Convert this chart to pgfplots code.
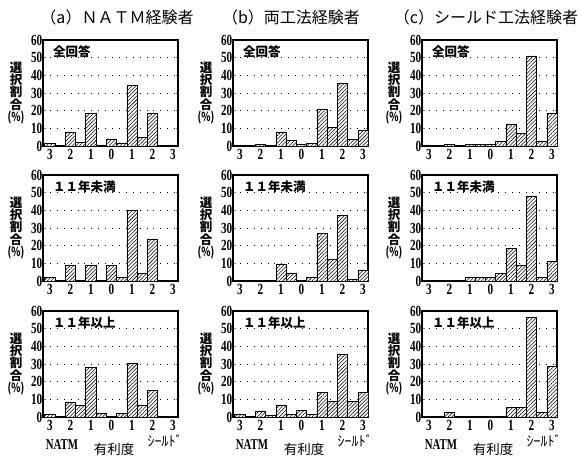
\documentclass[border=0pt]{standalone}
\usepackage{pgfplots}
\pgfplotsset{compat=1.18}
\usepackage{fontspec}
\usetikzlibrary{patterns,patterns.meta}
\setmainfont{Noto Sans CJK JP}
\newfontfamily\jp{Noto Sans CJK JP}
\newfontfamily\numf{Liberation Serif}
\newcommand\sq[1]{\scalebox{0.72}[1]{\numf\bfseries\fontsize{15.5}{15.5}\selectfont #1}}
\pgfplotsset{
  panel/.style={
    anchor=south west,
    width=135pt, height=106pt, scale only axis,
    xmin=-3.34, xmax=3.245, ymin=0, ymax=60,
    ytick={0,10,...,60},
    yticklabels={\sq{0},\sq{10},\sq{20},\sq{30},\sq{40},\sq{50},\sq{60}},
    xtick={-3,-2,...,3},
    xticklabels={\sq{3},\sq{2},\sq{1},\sq{0},\sq{1},\sq{2},\sq{3}},
    yticklabel style={inner sep=0.5pt},
    xticklabel style={inner sep=0.5pt},
    ymajorgrids,
    grid style={black, line width=0.9pt, dash pattern=on 0.9pt off 6pt},
    axis line style={line width=1.1pt},
    tick align=inside, major tick length=2.5pt,
    ytick style={line width=0.7pt},
    xtick style={draw=none},
    ybar, bar width=0.5, bar shift=0pt,
  },
}
\tikzset{plabel/.style={anchor=west, inner sep=0pt, font=\jp\bfseries\fontsize{12.5}{12.5}\selectfont},
  hbar/.style={draw=black, line width=0.7pt, fill=white, postaction={pattern={Lines[angle=45, distance=2.6pt, line width=0.55pt]}, pattern color=black}}}
\newcommand\ylab[2]{\node[align=center, inner sep=0pt, font=\jp\bfseries\fontsize{12.5}{12.2}\selectfont] at (#1,#2) {選\\択\\割\\合\\\scalebox{0.75}[1]{(\%)}};}
\newcommand\botlab[1]{%
  \node[font=\numf\bfseries\fontsize{15}{15}\selectfont] at (#1+19,12) {\scalebox{0.72}[1]{NATM}};
  \node[font=\jp\fontsize{13.5}{13.5}\selectfont] at (#1+71,7.5) {有利度};
  \node[font=\jp\fontsize{14}{14}\selectfont] at (#1+122,16) {ｼｰﾙﾄﾞ};}
\begin{document}
\begin{tikzpicture}[x=1pt,y=1pt]
\path[use as bounding box] (0,0) rectangle (582,457);
% titles
\node[font=\jp\fontsize{16}{16}\selectfont] at (117,440) {（a）ＮＡＴＭ経験者};
\node[font=\jp\fontsize{16}{16}\selectfont] at (291,440) {（b）両工法経験者};
\node[font=\jp\fontsize{16}{16}\selectfont] at (486,440) {（c）シールド工法経験者};
% ---------------- row 1
\begin{axis}[panel, at={(43pt,311pt)}]
\addplot[hbar] coordinates {(-3,1.5) (-2,8) (-1.5,2) (-1,18.5) (-0.5,0.6) (0,4) (0.5,1.7) (1,34.5) (1.5,5) (2,18.5)};
\node[plabel] at (rel axis cs:0.074,0.887) {全回答};
\end{axis}
\begin{axis}[panel, at={(233pt,311pt)}]
\addplot[hbar] coordinates {(-3,0.3) (-2,0.8) (-1.5,0.4) (-1,8) (-0.5,3) (0,1) (0.5,1.3) (1,21) (1.5,10.5) (2,35.5) (2.5,4) (3,8.8)};
\node[plabel] at (rel axis cs:0.074,0.887) {全回答};
\end{axis}
\begin{axis}[panel, at={(422pt,311pt)}]
\addplot[hbar] coordinates {(-2,0.8) (-1,0.8) (-0.5,0.8) (0,0.8) (0.5,2.4) (1,12.3) (1.5,7.2) (2,51) (2.5,2.4) (3,18.3)};
\node[plabel] at (rel axis cs:0.074,0.887) {全回答};
\end{axis}
% ---------------- row 2
\begin{axis}[panel, at={(43pt,176pt)}]
\addplot[hbar] coordinates {(-3,2) (-2,9) (-1,9) (0,9) (0.5,2.2) (1,40) (1.5,4.4) (2,23.8)};
\node[plabel] at (rel axis cs:0.074,0.887) {１１年未満};
\end{axis}
\begin{axis}[panel, at={(233pt,176pt)}]
\addplot[hbar] coordinates {(-1,9.7) (-0.5,4.6) (0.5,2.3) (1,27) (1.5,12.3) (2,37) (2.5,1.1) (3,6.3)};
\node[plabel] at (rel axis cs:0.074,0.887) {１１年未満};
\end{axis}
\begin{axis}[panel, at={(422pt,176pt)}]
\addplot[hbar] coordinates {(-1,1.9) (-0.5,1.9) (0,1.9) (0.5,4.2) (1,18.4) (1.5,8.9) (2,48) (2.5,1.9) (3,11.4)};
\node[plabel] at (rel axis cs:0.074,0.887) {１１年未満};
\end{axis}
% ---------------- row 3
\begin{axis}[panel, at={(43pt,40pt)}]
\addplot[hbar] coordinates {(-3,1.7) (-2,8.3) (-1.5,6.4) (-1,28) (-0.5,2) (0.5,2) (1,30.5) (1.5,6.6) (2,15)};
\node[plabel] at (rel axis cs:0.074,0.887) {１１年以上};
\end{axis}
\begin{axis}[panel, at={(233pt,40pt)}]
\addplot[hbar] coordinates {(-3,1.3) (-2,3.4) (-1.5,1.1) (-1,6.8) (-0.5,1.3) (0,3.6) (0.5,1.5) (1,14) (1.5,8.7) (2,35.2) (2.5,8.7) (3,14)};
\node[plabel] at (rel axis cs:0.074,0.887) {１１年以上};
\end{axis}
\begin{axis}[panel, at={(422pt,40pt)}]
\addplot[hbar] coordinates {(-2,2.4) (1,5.6) (1.5,5.6) (2,56.5) (2.5,2.8) (3,28.5)};
\node[plabel] at (rel axis cs:0.074,0.887) {１１年以上};
\end{axis}
% y labels
\ylab{16}{364}\ylab{206}{364}\ylab{394}{364}
\ylab{16}{229}\ylab{206}{229}\ylab{394}{229}
\ylab{16}{93}\ylab{206}{93}\ylab{394}{93}
% bottom labels
\botlab{43}\botlab{233}\botlab{422}
\end{tikzpicture}
\end{document}
